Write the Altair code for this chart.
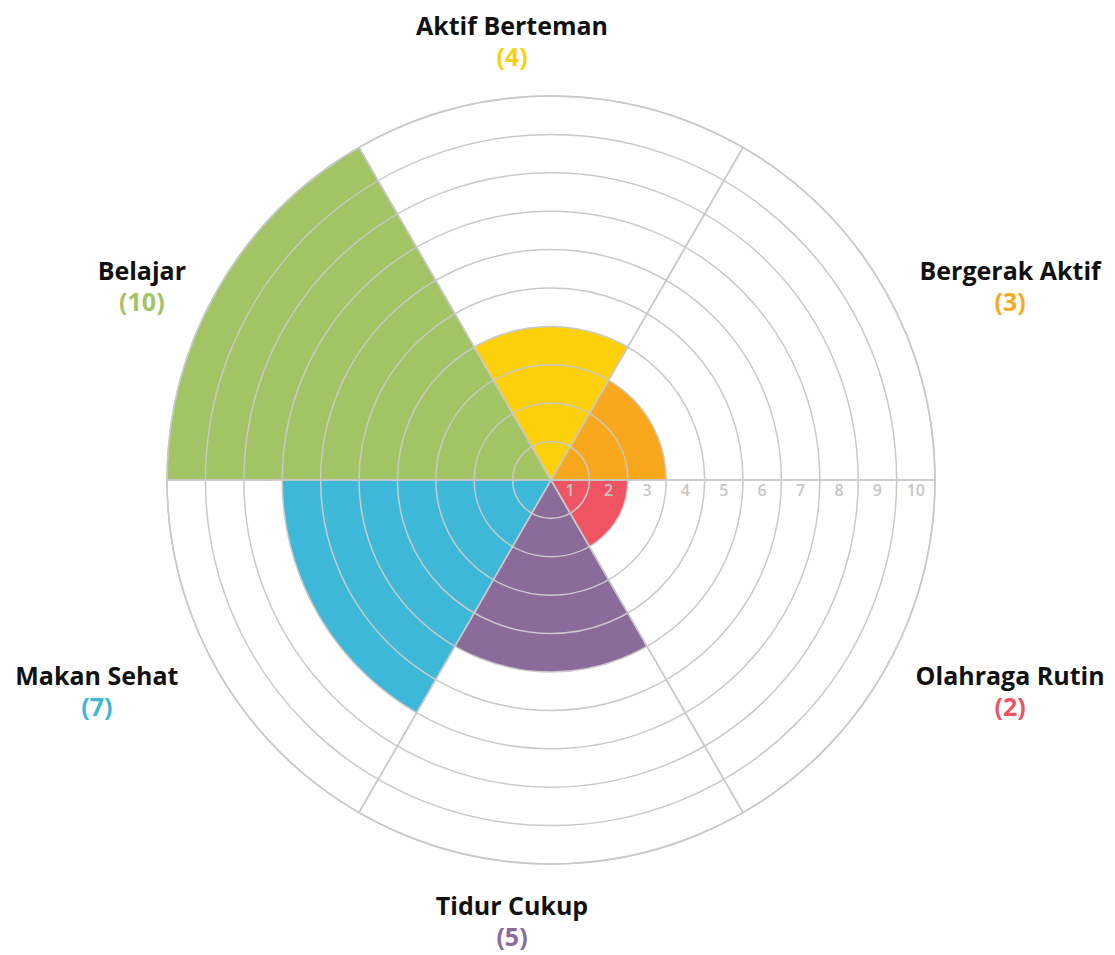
import math
import altair as alt
import pandas as pd

# ---- data ----
categories = ["Aktif Berteman", "Bergerak Aktif", "Olahraga Rutin", "Tidur Cukup", "Makan Sehat", "Belajar"]
values = [4, 3, 2, 5, 7, 10]
colors = ["#fdd00a", "#f9a81e", "#ee5461", "#8a6b9a", "#3db8d9", "#a2c465"]
rings = [1, 2, 3, 4, 5, 6, 7, 8, 9, 10]
tick_labels = ["1", "2", "3", "4", "5", "6", "7", "8", "9", "10"]

# ---- layout / style (kept apart from the data) ----
CX, CY = 543, 472
R_MAX = 384
GRID = "#c9c9c9"
FONT = "Open Sans"
LABEL_RX, LABEL_RY = 514, 430
# small per-label nudges (px) of the outer labels, in category order
label_nudge_x = [-39, 14, 14, -39, -9, 36]
label_nudge_y = [-7.5, 22.5, -3, 12, -3, 22.5]

seg_df = pd.DataFrame({"category": categories, "value": values, "color": colors,
                       "idx": list(range(len(categories)))})
ring_df = pd.DataFrame({"r": rings})
tick_df = pd.DataFrame({"label": tick_labels, "r": rings})
lab_df = seg_df.assign(nx=label_nudge_x, ny=label_nudge_y)

rscale = alt.Scale(type="linear", domain=[0, max(rings)], range=[0, R_MAX], zero=True)
cx = alt.value(CX)
cy = alt.value(CY)

angles = dict(
    mid="datum.idx * PI / 3",
    t0="datum.mid - PI / 6",
    t1="datum.mid + PI / 6",
    rmax=f"{max(rings)}",
)
base = alt.Chart(seg_df).transform_calculate(**angles)

segments = base.mark_arc().encode(
    x=cx, y=cy,
    theta=alt.Theta("t0:Q", scale=None),
    theta2=alt.Theta2("t1:Q"),
    radius=alt.Radius("value:Q", scale=rscale, stack=None),
    color=alt.Color("color:N", scale=None),
)

ring_layer = alt.Chart(ring_df).mark_arc(filled=False, stroke=GRID, strokeWidth=1.5).encode(
    x=cx, y=cy,
    theta=alt.value(0),
    theta2=alt.value(2 * math.pi),
    radius=alt.Radius("r:Q", scale=rscale, stack=None),
)

spokes = base.mark_arc(filled=False, stroke=GRID, strokeWidth=1.5).encode(
    x=cx, y=cy,
    theta=alt.Theta("t0:Q", scale=None),
    theta2=alt.Theta2("t1:Q"),
    radius=alt.Radius("rmax:Q", scale=rscale, stack=None),
)

ticks = alt.Chart(tick_df).transform_calculate(
    pos="datum.r - 0.5"
).mark_text(dy=11, fontSize=16, fontWeight=600, color="#c6c6c6", font=FONT,
            align="center", baseline="middle").encode(
    x=cx, y=cy,
    theta=alt.value(math.pi / 2),
    radius=alt.Radius("pos:Q", scale=rscale, stack=None),
    text="label:N",
)

lab_base = alt.Chart(lab_df).transform_calculate(**angles).transform_calculate(
    lx=f"{CX} + {LABEL_RX} * sin(datum.mid) + datum.nx",
    ly=f"{CY} - {LABEL_RY} * cos(datum.mid) + datum.ny",
    vlabel="'(' + datum.value + ')'",
)

names = lab_base.mark_text(dy=-15.5, fontSize=25, fontWeight="bold", color="#111111",
                           font=FONT, align="center", baseline="middle").encode(
    x=alt.X("lx:Q", scale=None, axis=None),
    y=alt.Y("ly:Q", scale=None, axis=None),
    text="category:N",
)

vals = lab_base.mark_text(dy=15.5, fontSize=25, fontWeight="bold",
                          font=FONT, align="center", baseline="middle").encode(
    x=alt.X("lx:Q", scale=None, axis=None),
    y=alt.Y("ly:Q", scale=None, axis=None),
    text="vlabel:N",
    color=alt.Color("color:N", scale=None),
)

chart = alt.layer(segments, ring_layer, spokes, ticks, names, vals).properties(
    width=1099, height=946, padding=0,
    autosize=alt.AutoSizeParams(type="none"),
).configure_view(stroke=None)

chart.save("out.html", embed_options={"renderer": "svg", "actions": False})
